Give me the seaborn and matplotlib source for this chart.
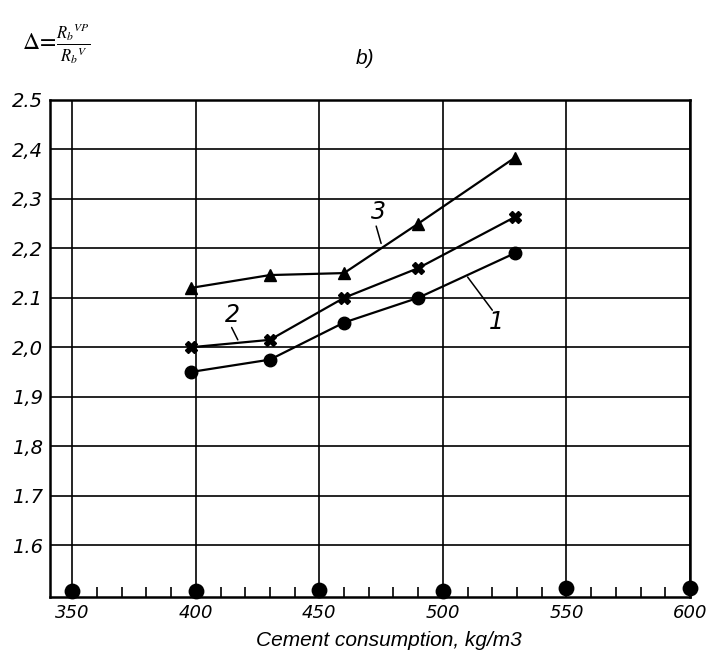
import matplotlib
matplotlib.use('Agg')
import matplotlib.pyplot as plt
import seaborn as sns
import pandas as pd

# values
cement = [398, 430, 460, 490, 529]
curve_1 = [1.95, 1.975, 2.05, 2.10, 2.19]
curve_2 = [2.00, 2.015, 2.10, 2.16, 2.263]
curve_3 = [2.12, 2.146, 2.15, 2.25, 2.383]

base_x = [350, 400, 450, 500, 550, 600]
base_y = [1.508, 1.508, 1.51, 1.508, 1.514, 1.514]

y_ticks = [1.6, 1.7, 1.8, 1.9, 2.0, 2.1, 2.2, 2.3, 2.4, 2.5]
y_labels = ['1.6', '1.7', '1,8', '1,9', '2,0', '2.1', '2,2', '2,3', '2,4', '2.5']
x_ticks = [350, 400, 450, 500, 550, 600]

df = pd.DataFrame({
    'cement': cement * 3,
    'delta': curve_1 + curve_2 + curve_3,
    'curve': ['1'] * 5 + ['2'] * 5 + ['3'] * 5,
})

sns.set_style('white')
plt.rcParams['font.family'] = ['DejaVu Sans']
plt.rcParams['text.color'] = 'black'
plt.rcParams['xtick.color'] = 'black'
plt.rcParams['ytick.color'] = 'black'
plt.rcParams['axes.labelcolor'] = 'black'

fig = plt.figure(figsize=(7.12, 6.63), dpi=100)
ax = fig.add_axes([50 / 712, 1 - 597 / 663, 640 / 712, 497 / 663])

sns.lineplot(data=df, x='cement', y='delta', hue='curve', style='curve',
             markers={'1': 'o', '2': 'X', '3': '^'}, dashes=False,
             palette={'1': 'black', '2': 'black', '3': 'black'},
             markersize=9, markeredgecolor='black', markeredgewidth=1,
             linewidth=1.6, legend=False, ax=ax, zorder=3)
sns.scatterplot(x=base_x, y=base_y, color='black', s=130, ax=ax, zorder=4,
                clip_on=False, linewidth=0)

ax.set_xlim(341, 600)
ax.set_ylim(1.495, 2.5)
ax.set_xticks(x_ticks)
ax.set_xticklabels([str(v) for v in x_ticks], fontstyle='italic', fontsize=13)
ax.set_xticks(range(360, 600, 10), minor=True)
ax.set_yticks(y_ticks)
ax.set_yticklabels(y_labels, fontstyle='italic', fontsize=14)
ax.tick_params(axis='both', which='major', length=0, pad=5)
ax.tick_params(axis='x', which='minor', direction='in', length=7, width=1.2,
               color='black', bottom=True)
ax.grid(True, color='black', linewidth=1.2)
for s in ax.spines.values():
    s.set_color('black')
    s.set_linewidth(1.8)

ax.set_xlabel('Cement consumption, kg/m3', fontstyle='italic', fontsize=15,
              family='Liberation Sans')
ax.set_ylabel('')
ax.xaxis.set_label_coords((389 - 50) / 640, -0.068)

# curve labels with leader lines
line = dict(arrowstyle='-', color='black', lw=1.1, shrinkA=0, shrinkB=0)
ax.annotate('', xy=(475, 2.21), xytext=(473, 2.245), arrowprops=line)
ax.text(474, 2.25, '3', fontsize=17, fontstyle='italic', ha='center', va='bottom')
ax.annotate('', xy=(417, 2.015), xytext=(414.5, 2.04), arrowprops=line)
ax.text(415, 2.04, '2', fontsize=17, fontstyle='italic', ha='center', va='bottom')
ax.annotate('', xy=(520, 2.075), xytext=(510, 2.142), arrowprops=line)
ax.text(521.5, 2.075, '1', fontsize=17, fontstyle='italic', ha='center', va='top')

fig.text(22 / 712, 1 - 44 / 663, r'$\Delta\!=\!\frac{R_b{}^{VP}}{R_b{}^{V}}$',
         fontsize=17, math_fontfamily='stix', va='center', ha='left')
fig.text(365 / 712, 1 - 58 / 663, 'b)', fontsize=15, fontstyle='italic',
         ha='center', va='center', family='Liberation Sans')

fig.savefig('out.png', dpi=100)
